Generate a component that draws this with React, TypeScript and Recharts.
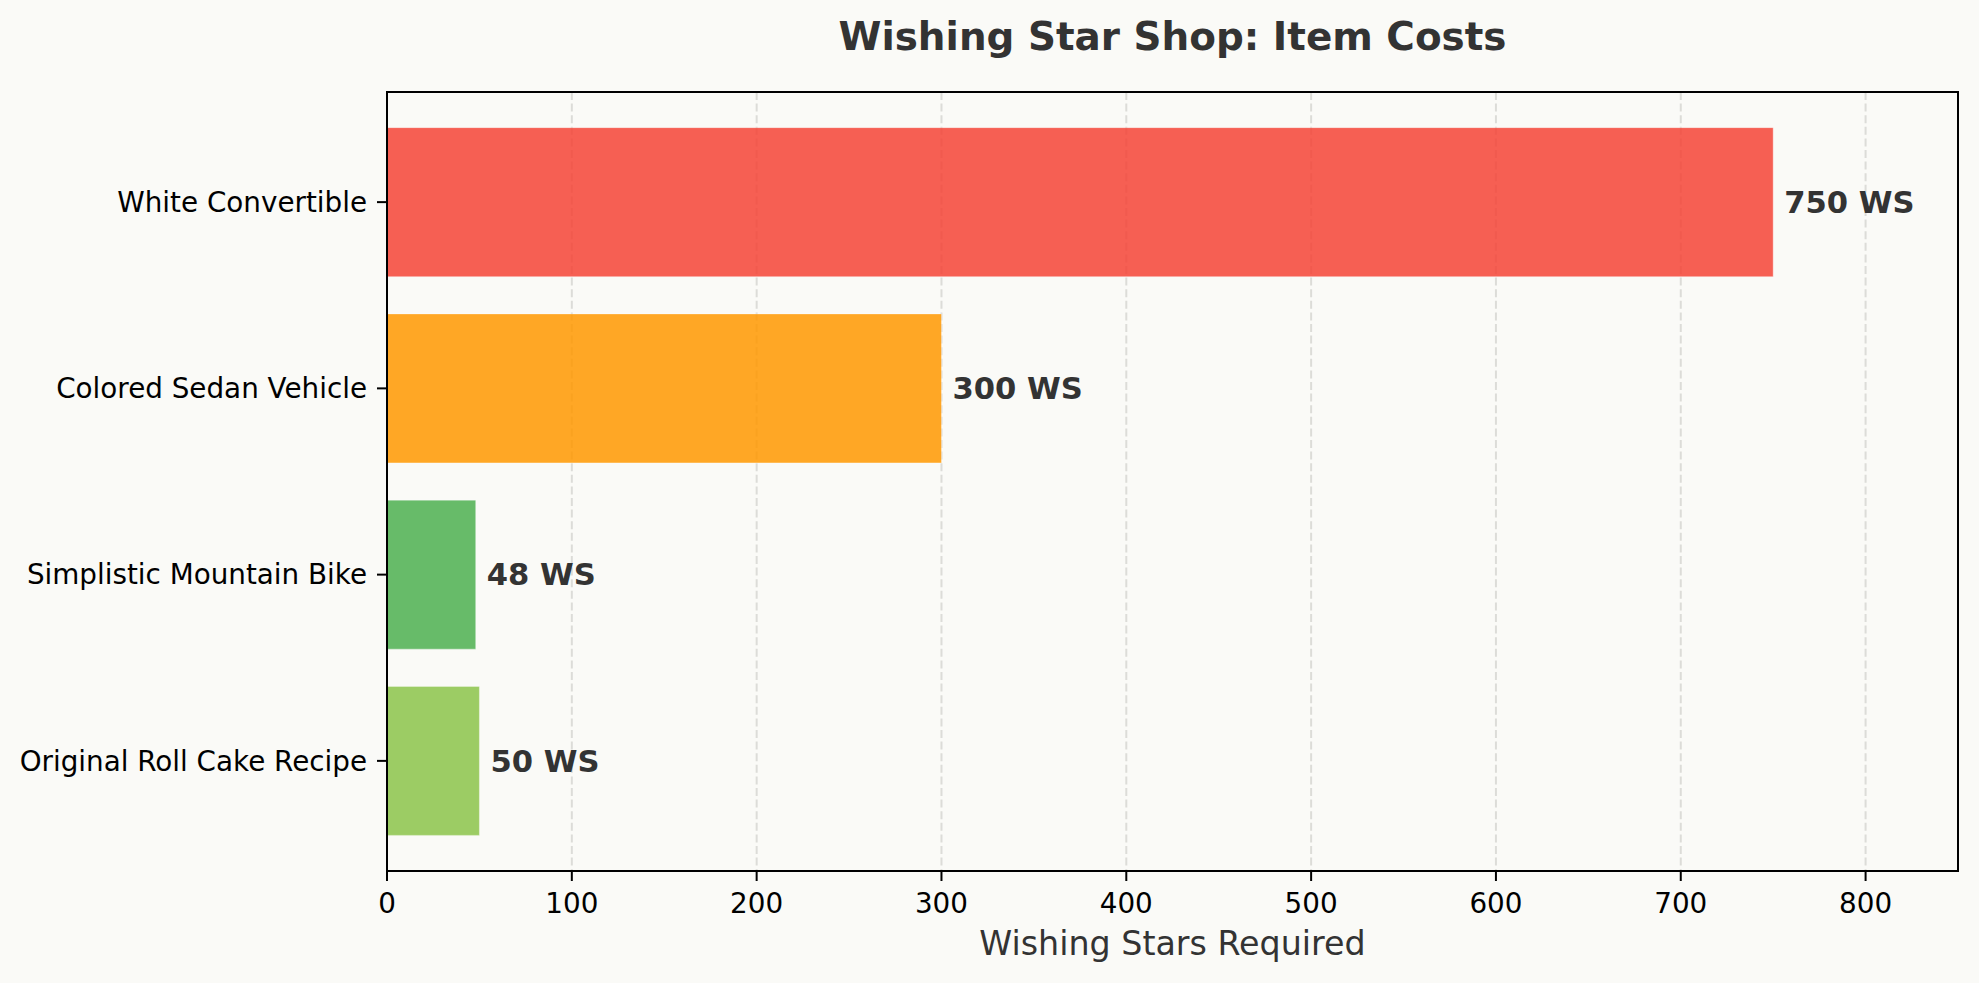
import { Bar, BarChart, CartesianGrid, Cell, LabelList, XAxis, YAxis, usePlotArea } from "recharts";

const items = [
  "White Convertible",
  "Colored Sedan Vehicle",
  "Simplistic Mountain Bike",
  "Original Roll Cake Recipe",
];
const costs = [750, 300, 48, 50];
const barColors = ["#F44336", "#FF9800", "#4CAF50", "#8BC34A"];
const xTicks = [0, 100, 200, 300, 400, 500, 600, 700, 800];
const xMax = 850;

const data = items.map((item, i) => ({ item, cost: costs[i] }));

const W = 1979;
const H = 983;
const FONT = "'DejaVu Sans', sans-serif";
const BG = "#fafaf7";

// full box around the plot area (matplotlib-style spines)
function Frame() {
  const area = usePlotArea();
  if (!area) return null;
  return (
    <rect x={area.x} y={area.y} width={area.width} height={area.height} fill="none" stroke="#000" strokeWidth={2} />
  );
}

export default function App() {
  const tickStyle = { fontSize: 27.8, fill: "#000", fontFamily: FONT };
  const line = { stroke: "#000", strokeWidth: 2 };

  return (
    <div style={{ position: "absolute", left: 0, top: 0, width: W, height: H, background: BG, fontFamily: FONT }}>
      <BarChart
        width={W}
        height={H}
        data={data}
        layout="vertical"
        margin={{ top: 92, right: 21, left: 0, bottom: 0 }}
        barCategoryGap="10%"
      >
        <CartesianGrid horizontal={false} stroke="#dcdcd8" strokeWidth={2} strokeDasharray="8 3.6" />
        <XAxis
          type="number"
          domain={[0, xMax]}
          ticks={xTicks}
          height={112}
          tick={tickStyle}
          tickSize={10}
          tickMargin={12}
          tickLine={line}
          axisLine={line}
        />
        <YAxis
          type="category"
          dataKey="item"
          width={387}
          padding={{ top: 17, bottom: 17 }}
          tick={tickStyle}
          tickSize={10}
          tickMargin={10}
          tickLine={line}
          axisLine={line}
        />
        <Bar dataKey="cost" isAnimationActive={false} fillOpacity={0.85} stroke="#ffffff" strokeOpacity={0.35} strokeWidth={1}>
          {data.map((d, i) => (
            <Cell key={d.item} fill={barColors[i]} />
          ))}
          <LabelList
            dataKey="cost"
            position="right"
            offset={11}
            formatter={(v: number) => `${v} WS`}
            style={{ fontSize: 30.6, fontWeight: "bold", fill: "#333333", fontFamily: FONT }}
          />
        </Bar>
        <Frame />
      </BarChart>
      <svg width={W} height={H} style={{ position: "absolute", left: 0, top: 0, pointerEvents: "none" }}>
        <text x={1172.5} y={50} textAnchor="middle" fontSize={38.9} fontWeight="bold" fill="#333333" fontFamily={FONT}>
          Wishing Star Shop: Item Costs
        </text>
        <text x={1172.5} y={955} textAnchor="middle" fontSize={33.3} fill="#333333" fontFamily={FONT}>
          Wishing Stars Required
        </text>
      </svg>
    </div>
  );
}
